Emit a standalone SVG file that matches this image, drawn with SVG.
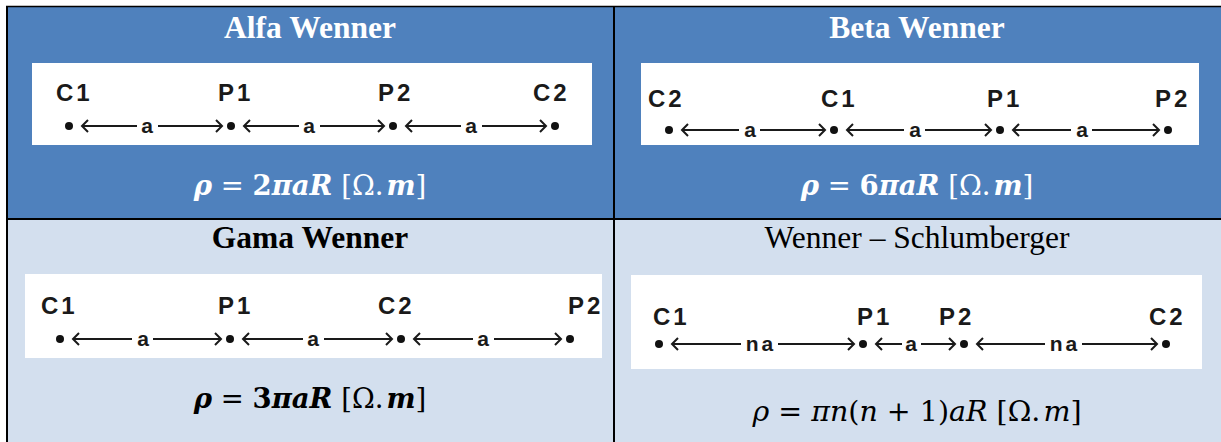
<svg xmlns="http://www.w3.org/2000/svg" width="1221" height="442" viewBox="0 0 1221 442">
<style>
.hdr{fill:#4F81BD}
.lt{fill:#D3DFEE}
.box{fill:#FFFFFF}
.bd{stroke:#000;fill:none}
.title{font-family:"Liberation Serif",serif;font-size:31.5px;text-anchor:middle}
.tb{font-weight:bold}
.lbl{font-family:"Liberation Sans",Arial,sans-serif;font-weight:bold;font-size:24px;fill:#1a1a1a;letter-spacing:3px}
.a{font-family:"Liberation Sans",Arial,sans-serif;font-weight:bold;font-size:21px;fill:#1a1a1a;text-anchor:middle}
.ln{stroke:#1a1a1a;stroke-width:2;fill:none}
.dot{fill:#111}
.f{font-family:"DejaVu Serif",serif;font-size:27.5px;text-anchor:middle}
.fb{font-weight:bold;font-style:italic}
.up{font-style:normal;font-weight:normal}
.upb{font-style:normal;font-weight:bold}
.fr{font-style:italic;font-size:28.5px}
</style>

<g id="cell-alfa">
<rect class="hdr" x="7" y="6" width="607" height="213"/>
<text class="title tb" x="310" y="38" fill="#fff">Alfa Wenner</text>
<rect class="box" x="32" y="63" width="560" height="82"/>
<text class="lbl" x="56" y="101">C1</text>
<text class="lbl" x="218" y="101">P1</text>
<text class="lbl" x="378" y="101">P2</text>
<text class="lbl" x="533" y="101">C2</text>
<text class="f fb" x="310" y="195" fill="#fff">ρ<tspan class="up"> = </tspan><tspan class="upb">2</tspan>πaR<tspan class="up"> [Ω.</tspan><tspan dx="3">m</tspan><tspan class="up">]</tspan></text>
</g>

<g id="cell-beta">
<rect class="hdr" x="614" y="6" width="607" height="213"/>
<text class="title tb" x="917" y="38" fill="#fff">Beta Wenner</text>
<rect class="box" x="641" y="63" width="558" height="82"/>
<text class="lbl" x="648" y="107">C2</text>
<text class="lbl" x="821" y="107">C1</text>
<text class="lbl" x="987" y="107">P1</text>
<text class="lbl" x="1155" y="107">P2</text>
<text class="f fb" x="917" y="195" fill="#fff">ρ<tspan class="up"> = </tspan><tspan class="upb">6</tspan>πaR<tspan class="up"> [Ω.</tspan><tspan dx="3">m</tspan><tspan class="up">]</tspan></text>
</g>

<g id="cell-gama">
<rect class="lt" x="7" y="219" width="607" height="223"/>
<text class="title tb" x="310" y="248" fill="#000">Gama Wenner</text>
<rect class="box" x="25" y="274" width="577" height="84"/>
<text class="lbl" x="41" y="314">C1</text>
<text class="lbl" x="218" y="314">P1</text>
<text class="lbl" x="378" y="314">C2</text>
<text class="lbl" x="568" y="314">P2</text>
<text class="f fb" x="310" y="408" fill="#000">ρ<tspan class="up"> = </tspan><tspan class="upb">3</tspan>πaR<tspan class="up"> [Ω.</tspan><tspan dx="3">m</tspan><tspan class="up">]</tspan></text>
</g>

<g id="cell-ws">
<rect class="lt" x="614" y="219" width="607" height="223"/>
<text class="title" x="917" y="248" fill="#000">Wenner – Schlumberger</text>
<rect class="box" x="631" y="275" width="571" height="94"/>
<text class="lbl" x="653" y="325">C1</text>
<text class="lbl" x="857" y="325">P1</text>
<text class="lbl" x="939" y="325">P2</text>
<text class="lbl" x="1149" y="325">C2</text>
<text class="f fr" x="917" y="421" fill="#000">ρ<tspan class="up"> = </tspan>πn<tspan class="up">(</tspan>n<tspan class="up"> + 1)</tspan>aR<tspan class="up"> [Ω.</tspan><tspan dx="3">m</tspan><tspan class="up">]</tspan></text>
</g>

<g id="connectors">
<!-- Alfa y=126 -->
<circle class="dot" cx="69" cy="126" r="4"/><circle class="dot" cx="231" cy="126" r="4"/><circle class="dot" cx="393" cy="126" r="4"/><circle class="dot" cx="555" cy="126" r="4"/>
<path class="ln" d="M88 120L82 126L88 132M82 126H137M158 126H222M216 120L222 126L216 132"/>
<text class="a" x="147" y="133">a</text>
<path class="ln" d="M250 120L244 126L250 132M244 126H299M320 126H384M378 120L384 126L378 132"/>
<text class="a" x="309" y="133">a</text>
<path class="ln" d="M412 120L406 126L412 132M406 126H461M482 126H546M540 120L546 126L540 132"/>
<text class="a" x="471" y="133">a</text>

<!-- Beta y=130 -->
<circle class="dot" cx="669" cy="130" r="4"/><circle class="dot" cx="834" cy="130" r="4"/><circle class="dot" cx="1000" cy="130" r="4"/><circle class="dot" cx="1168" cy="130" r="4"/>
<path class="ln" d="M688 124L682 130L688 136M682 130H739M760 130H825M819 124L825 130L819 136"/>
<text class="a" x="750" y="137">a</text>
<path class="ln" d="M853 124L847 130L853 136M847 130H904M925 130H991M985 124L991 130L985 136"/>
<text class="a" x="915" y="137">a</text>
<path class="ln" d="M1019 124L1013 130L1019 136M1013 130H1071M1092 130H1159M1153 124L1159 130L1153 136"/>
<text class="a" x="1082" y="137">a</text>

<!-- Gama y=339 -->
<circle class="dot" cx="60" cy="339" r="4"/><circle class="dot" cx="230" cy="339" r="4"/><circle class="dot" cx="401" cy="339" r="4"/><circle class="dot" cx="570" cy="339" r="4"/>
<path class="ln" d="M79 333L73 339L79 345M73 339H132M153 339H221M215 333L221 339L215 345"/>
<text class="a" x="143" y="346">a</text>
<path class="ln" d="M249 333L243 339L249 345M243 339H303M324 339H392M386 333L392 339L386 345"/>
<text class="a" x="313" y="346">a</text>
<path class="ln" d="M420 333L414 339L420 345M414 339H473M494 339H561M555 333L561 339L555 345"/>
<text class="a" x="483" y="346">a</text>

<!-- Wenner-Schlumberger y=344 -->
<circle class="dot" cx="659" cy="344" r="4"/><circle class="dot" cx="863" cy="344" r="4"/><circle class="dot" cx="964" cy="344" r="4"/><circle class="dot" cx="1166" cy="344" r="4"/>
<path class="ln" d="M678 338L672 344L678 350M672 344H741M778 344H854M848 338L854 344L848 350"/>
<text class="a" x="761" y="351" letter-spacing="3">na</text>
<path class="ln" d="M882 338L876 344L882 350M876 344H902M921 344H955M949 338L955 344L949 350"/>
<text class="a" x="911" y="351">a</text>
<path class="ln" d="M983 338L977 344L983 350M977 344H1045M1082 344H1157M1151 338L1157 344L1151 350"/>
<text class="a" x="1065" y="351" letter-spacing="3">na</text>
</g>

<g id="borders">
<line class="bd" x1="6" y1="6.5" x2="1221" y2="6.5" stroke-width="1.5"/>
<line class="bd" x1="7" y1="6" x2="7" y2="442" stroke-width="2"/>
<line class="bd" x1="614" y1="6" x2="614" y2="442" stroke-width="2"/>
<line class="bd" x1="6" y1="219" x2="1221" y2="219" stroke-width="2"/>
</g>
</svg>
